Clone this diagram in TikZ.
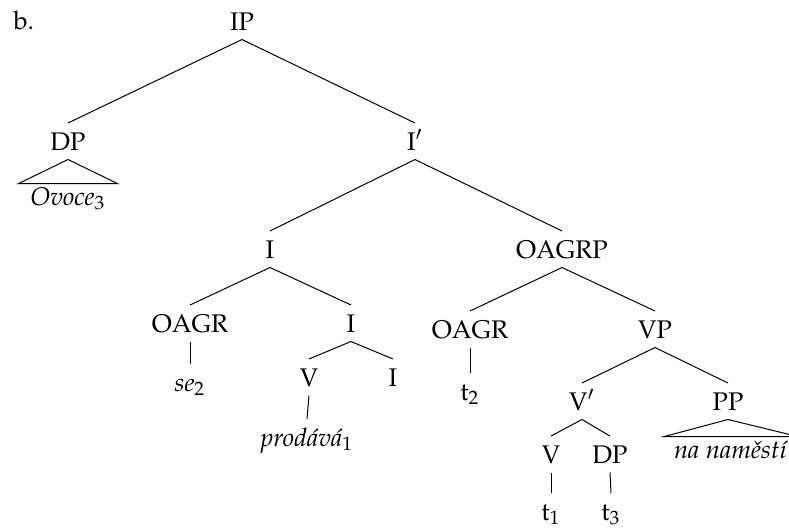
\documentclass[tikz,border=0pt]{standalone}
\usepackage[T1]{fontenc}
\usepackage{mathpazo}
\usepackage{tikz}

\tikzset{
  cat/.style={inner sep=0pt, outer sep=3.8pt, text height=7pt, text depth=0pt, anchor=base},
  roof/.style={inner sep=0pt, outer sep=1.5pt, anchor=base, minimum width=#1},
}

\begin{document}
\begin{tikzpicture}[x=0.4pt, y=-0.4pt, font=\fontsize{10.2}{12}\selectfont]
  \useasboundingbox (0,0) rectangle (789,529);
  \node[anchor=base west, inner sep=0pt] at (13,29) (B) {b.};

  \node[cat] at (242,30) (IP) {IP};
  \node[cat] at (68,150) (DP) {DP};
  \node[roof=36.6pt] at (68,205) (Ovoce) {\textit{Ovoce}$_3$};
  \node[cat] at (415,150) (Ibar) {I$'$};

  \node[cat] at (270,258) (I) {I};
  \node[cat] at (190,332) (OAGRa) {OAGR};
  \node[cat] at (190,391) (se) {\textit{se}$_2$};
  \node[cat] at (351,332) (Ia) {I};
  \node[cat] at (309,386) (Va) {V};
  \node[cat] at (307,446) (prodava) {\textit{prod\'av\'a}$_1$};
  \node[cat] at (393,386) (Ib) {I};

  \node[cat] at (562,258) (OAGRP) {OAGRP};
  \node[cat] at (470,338) (OAGRb) {OAGR};
  \node[cat] at (470,400) (tb) {t$_2$};
  \node[cat] at (655,338) (VP) {VP};
  \node[cat] at (582,410) (Vbar) {V$'$};
  \node[cat] at (551,463) (Vb) {V};
  \node[cat] at (551,520) (ta) {t$_1$};
  \node[cat] at (610,463) (DPb) {DP};
  \node[cat] at (611,520) (tc) {t$_3$};
  \node[cat] at (728,410) (PP) {PP};
  \node[roof=50.6pt] at (731,458) (namesti) {\textit{na nam\v{e}st\'{\i}}};

  \draw (IP.south) -- (DP.north);
  \draw (IP.south) -- (Ibar.north);
  \draw (Ovoce.north west) -- (DP.south) -- (Ovoce.north east) -- cycle;
  \draw (Ibar.south) -- (I.north);
  \draw (Ibar.south) -- (OAGRP.north);
  \draw (I.south) -- (OAGRa.north);
  \draw (I.south) -- (Ia.north);
  \draw (OAGRa.south) -- (se.north);
  \draw (Ia.south) -- (Va.north);
  \draw (Ia.south) -- (Ib.north);
  \draw (Va.south) -- (prodava.north);
  \draw (OAGRP.south) -- (OAGRb.north);
  \draw (OAGRP.south) -- (VP.north);
  \draw (OAGRb.south) -- (tb.north);
  \draw (VP.south) -- (Vbar.north);
  \draw (VP.south) -- (PP.north);
  \draw (Vbar.south) -- (Vb.north);
  \draw (Vbar.south) -- (DPb.north);
  \draw (Vb.south) -- (ta.north);
  \draw (DPb.south) -- (tc.north);
  \draw (namesti.north west) -- (PP.south) -- (namesti.north east) -- cycle;
\end{tikzpicture}
\end{document}
